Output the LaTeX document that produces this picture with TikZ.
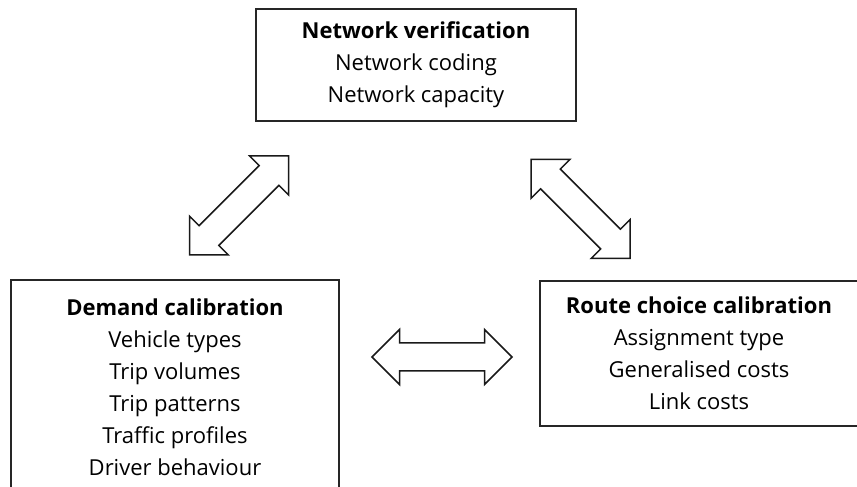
\documentclass[tikz,border=0pt]{standalone}
\usepackage{fontspec}
\setmainfont{Open Sans}
\begin{document}
\begin{tikzpicture}[x=1pt,y=1pt,
  box/.style={draw=black!85, line width=1.6pt, align=center, inner sep=0pt,
    font=\fontsize{22}{32}\selectfont, text=black},
  arrowline/.style={draw=black!90, fill=white, line width=1.5pt, line join=miter},
  dblarrow/.pic={
    \path[arrowline] (-70,0) -- (-42.5,27.5) -- (-42.5,14) -- (42.5,14)
      -- (42.5,27.5) -- (70,0) -- (42.5,-27.5) -- (42.5,-14)
      -- (-42.5,-14) -- (-42.5,-27.5) -- cycle;
  }]
\useasboundingbox (0,0) rectangle (857,487);
\fill[white] (0,0) rectangle (857,487);

% three calibration blocks
\node[box, minimum width=320, minimum height=112] (net) at (416,422)
  {\textbf{Network verification}\\Network coding\\Network capacity};
\node[box, minimum width=328, minimum height=214] (dem) at (175,100)
  {\textbf{Demand calibration}\\Vehicle types\\Trip volumes\\Trip patterns\\Traffic profiles\\Driver behaviour};
\node[box, minimum width=318, minimum height=145] (rte) at (699,133.5)
  {\textbf{Route choice calibration}\\Assignment type\\Generalised costs\\Link costs};

% two-way links between the blocks
\coordinate (netdem) at (239,281.5);
\coordinate (netrte) at (580.5,278);
\coordinate (demrte) at (442,130);
\pic[rotate=45] at (netdem) {dblarrow};
\pic[rotate=-45] at (netrte) {dblarrow};
\pic at (demrte) {dblarrow};
\end{tikzpicture}
\end{document}
